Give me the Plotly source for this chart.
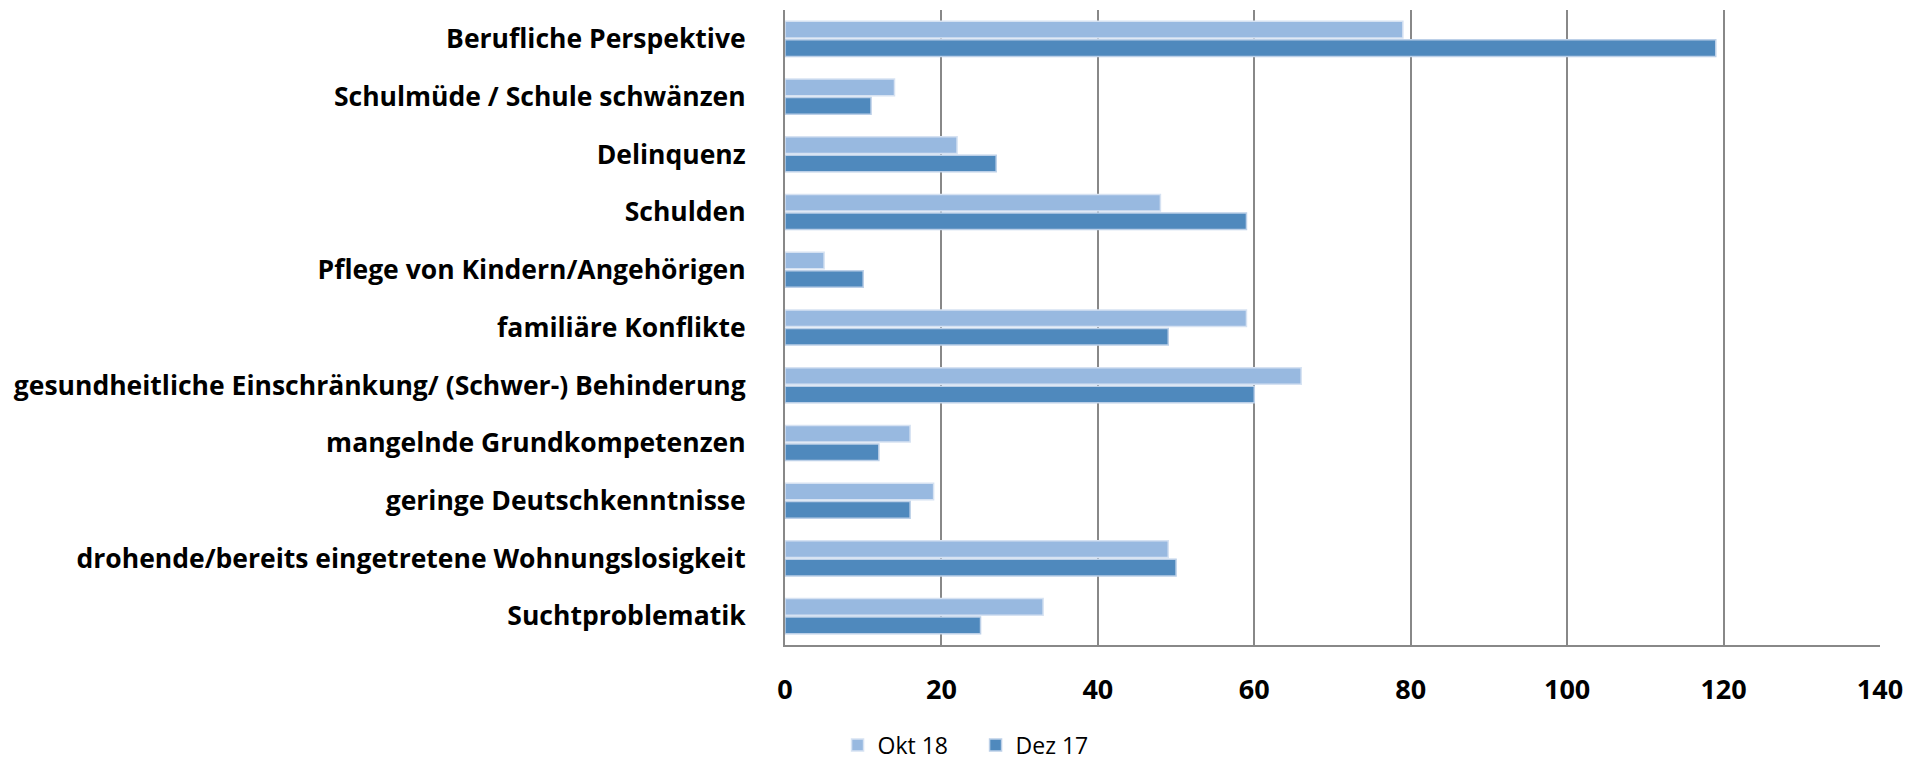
import plotly.graph_objects as go

categories = [
    "Berufliche Perspektive",
    "Schulmüde / Schule schwänzen",
    "Delinquenz",
    "Schulden",
    "Pflege von Kindern/Angehörigen",
    "familiäre Konflikte",
    "gesundheitliche Einschränkung/ (Schwer-) Behinderung",
    "mangelnde Grundkompetenzen",
    "geringe Deutschkenntnisse",
    "drohende/bereits eingetretene Wohnungslosigkeit",
    "Suchtproblematik",
]
okt18 = [79, 14, 22, 48, 5, 59, 66, 16, 19, 49, 33]
dez17 = [119, 11, 27, 59, 10, 49, 60, 12, 16, 50, 25]
x_ticks = [0, 20, 40, 60, 80, 100, 120, 140]

fig = go.Figure()
fig.add_trace(go.Bar(
    y=categories, x=okt18, name="Okt 18", orientation="h",
    marker=dict(color="#98B9E0", line=dict(color="#D6E2F2", width=1.5)),
))
fig.add_trace(go.Bar(
    y=categories, x=dez17, name="Dez 17", orientation="h",
    marker=dict(color="#4F89BD", line=dict(color="#BCD0E8", width=1.5)),
))

fig.update_layout(
    width=1914, height=761,
    margin=dict(l=785, r=34, t=10, b=116),
    paper_bgcolor="white", plot_bgcolor="white",
    barmode="group", bargap=0.36, bargroupgap=0.1,
    font=dict(family="Open Sans", color="black"),
    showlegend=True,
    legend=dict(orientation="h", xref="paper", x=0.048, xanchor="left",
                yref="container", y=0.021, yanchor="middle",
                font=dict(size=23, family="Open Sans"), itemwidth=30,
                entrywidth=93, entrywidthmode="pixels",
                traceorder="normal"),
)
fig.update_xaxes(
    range=[0, 140], tickvals=x_ticks, ticktext=[str(v) for v in x_ticks],
    showgrid=True, gridcolor="#888888", gridwidth=2,
    showline=True, linecolor="#888888", linewidth=2,
    tickfont=dict(size=27, family="Open Sans", weight="bold"),
    ticklabelstandoff=20, zeroline=False,
)
fig.update_yaxes(
    autorange="reversed", type="category",
    showline=True, linecolor="#888888", linewidth=2,
    tickfont=dict(size=26.5, family="Open Sans", weight="bold"),
    ticklabelstandoff=32, showgrid=False,
)

fig.write_html(
    "out.html",
    config={"displayModeBar": False},
    post_script="document.body.style.margin='0';document.body.style.overflow='hidden';",
)
